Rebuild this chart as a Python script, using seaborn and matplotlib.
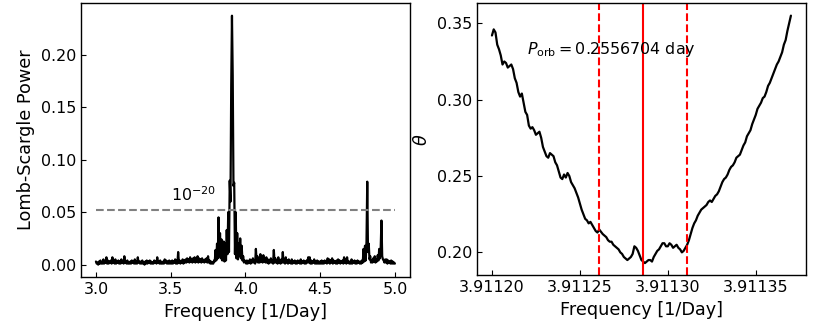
import numpy as np
import pandas as pd
import matplotlib
matplotlib.use("Agg")
import matplotlib.pyplot as plt
import matplotlib.ticker as mticker
import seaborn as sns

# Lomb-Scargle periodogram on a 0.005 1/day grid (3.0 .. 5.0)
ls_start = 3.0
ls_step = 0.005
ls_power = [
    0.003, 0.001, 0.002, 0.000, 0.003, 0.001, 0.004, 0.001, 0.002, 0.001, 0.005, 0.001, 0.003, 0.002, 0.007, 0.001, 0.004, 0.001, 0.003, 0.002,
    0.004, 0.001, 0.007, 0.002, 0.003, 0.001, 0.005, 0.001, 0.003, 0.002, 0.004, 0.001, 0.003, 0.001, 0.005, 0.002, 0.003, 0.001, 0.008, 0.002,
    0.003, 0.001, 0.004, 0.001, 0.002, 0.001, 0.003, 0.001, 0.004, 0.002, 0.003, 0.001, 0.005, 0.001, 0.003, 0.001, 0.007, 0.002, 0.003, 0.001,
    0.003, 0.001, 0.004, 0.001, 0.002, 0.000, 0.003, 0.001, 0.004, 0.001, 0.003, 0.002, 0.004, 0.001, 0.003, 0.001, 0.002, 0.001, 0.004, 0.002,
    0.003, 0.001, 0.007, 0.002, 0.003, 0.001, 0.004, 0.001, 0.002, 0.001, 0.003, 0.001, 0.005, 0.002, 0.004, 0.001, 0.003, 0.001, 0.004, 0.001,
    0.003, 0.001, 0.004, 0.001, 0.003, 0.002, 0.005, 0.001, 0.004, 0.001, 0.012, 0.002, 0.004, 0.001, 0.003, 0.002, 0.005, 0.001, 0.004, 0.002,
    0.005, 0.002, 0.006, 0.003, 0.005, 0.002, 0.007, 0.003, 0.005, 0.002, 0.006, 0.003, 0.007, 0.002, 0.005, 0.003, 0.008, 0.002, 0.006, 0.003,
    0.005, 0.002, 0.006, 0.003, 0.004, 0.002, 0.005, 0.003, 0.006, 0.002, 0.008, 0.002, 0.004, 0.001, 0.003, 0.001, 0.002, 0.001, 0.004, 0.003,
    0.014, 0.004, 0.020, 0.006, 0.045, 0.008, 0.030, 0.006, 0.024, 0.004, 0.016, 0.022, 0.003, 0.020, 0.004, 0.033, 0.010, 0.050, 0.012, 0.080,
    0.060, 0.170, 0.237, 0.180, 0.075, 0.078, 0.010, 0.050, 0.006, 0.030, 0.005, 0.020, 0.008, 0.025, 0.006, 0.018, 0.004, 0.008, 0.002, 0.004,
    0.003, 0.001, 0.004, 0.001, 0.003, 0.002, 0.005, 0.001, 0.004, 0.002, 0.006, 0.002, 0.004, 0.001, 0.015, 0.003, 0.008, 0.002, 0.005, 0.002,
    0.010, 0.003, 0.008, 0.002, 0.009, 0.003, 0.006, 0.002, 0.007, 0.002, 0.005, 0.001, 0.004, 0.002, 0.006, 0.002, 0.004, 0.001, 0.014, 0.002,
    0.006, 0.002, 0.004, 0.001, 0.007, 0.002, 0.004, 0.001, 0.005, 0.002, 0.012, 0.002, 0.005, 0.001, 0.007, 0.002, 0.004, 0.001, 0.005, 0.002,
    0.003, 0.001, 0.005, 0.001, 0.003, 0.002, 0.004, 0.001, 0.003, 0.001, 0.004, 0.002, 0.003, 0.001, 0.005, 0.001, 0.003, 0.002, 0.004, 0.001,
    0.003, 0.001, 0.004, 0.002, 0.007, 0.002, 0.007, 0.001, 0.004, 0.001, 0.003, 0.002, 0.005, 0.001, 0.003, 0.001, 0.004, 0.001, 0.003, 0.001,
    0.003, 0.001, 0.004, 0.001, 0.003, 0.001, 0.004, 0.002, 0.003, 0.001, 0.006, 0.002, 0.005, 0.001, 0.004, 0.002, 0.006, 0.001, 0.004, 0.002,
    0.003, 0.001, 0.004, 0.001, 0.005, 0.002, 0.004, 0.001, 0.003, 0.002, 0.004, 0.001, 0.007, 0.002, 0.005, 0.001, 0.007, 0.002, 0.003, 0.001,
    0.003, 0.001, 0.005, 0.001, 0.003, 0.002, 0.004, 0.001, 0.003, 0.001, 0.004, 0.002, 0.003, 0.001, 0.003, 0.001, 0.004, 0.002, 0.015, 0.003,
    0.018, 0.004, 0.022, 0.079, 0.012, 0.020, 0.005, 0.008, 0.002, 0.004, 0.002, 0.006, 0.003, 0.008, 0.002, 0.005, 0.003, 0.009, 0.004, 0.015,
    0.006, 0.016, 0.042, 0.008, 0.005, 0.004, 0.002, 0.005, 0.002, 0.005, 0.001, 0.004, 0.002, 0.003, 0.001, 0.004, 0.001, 0.003, 0.001, 0.002,
    0.001,
]
fap_level = 0.052
fap_label = r"$10^{-20}$"

# PDM theta statistic on a 1e-6 1/day grid starting at 3.91120
pdm_start = 3.91120
pdm_step = 0.000001
pdm_theta = [
    0.342, 0.346, 0.344, 0.336, 0.333, 0.329, 0.323, 0.325, 0.324, 0.321, 0.322, 0.323, 0.320, 0.314, 0.311, 0.305, 0.302, 0.304, 0.298, 0.292,
    0.290, 0.283, 0.281, 0.282, 0.280, 0.277, 0.278, 0.279, 0.275, 0.269, 0.266, 0.263, 0.262, 0.265, 0.264, 0.263, 0.259, 0.257, 0.253, 0.249,
    0.248, 0.251, 0.249, 0.252, 0.250, 0.246, 0.244, 0.242, 0.239, 0.236, 0.232, 0.228, 0.225, 0.222, 0.221, 0.219, 0.220, 0.218, 0.216, 0.214,
    0.213, 0.215, 0.2135, 0.212, 0.211, 0.210, 0.208, 0.207, 0.207, 0.205, 0.204, 0.203, 0.202, 0.200, 0.199, 0.197, 0.196, 0.195, 0.196, 0.197,
    0.199, 0.204, 0.203, 0.201, 0.198, 0.195, 0.194, 0.193, 0.194, 0.195, 0.195, 0.194, 0.197, 0.199, 0.201, 0.202, 0.204, 0.206, 0.206, 0.204,
    0.204, 0.206, 0.205, 0.203, 0.204, 0.205, 0.203, 0.202, 0.200, 0.201, 0.203, 0.205, 0.208, 0.212, 0.216, 0.219, 0.221, 0.224, 0.226, 0.228,
    0.229, 0.230, 0.231, 0.233, 0.234, 0.233, 0.235, 0.237, 0.238, 0.240, 0.243, 0.246, 0.248, 0.249, 0.251, 0.254, 0.256, 0.257, 0.259, 0.262,
    0.263, 0.264, 0.267, 0.270, 0.272, 0.276, 0.278, 0.280, 0.284, 0.287, 0.290, 0.294, 0.296, 0.298, 0.301, 0.302, 0.305, 0.309, 0.311, 0.314,
    0.317, 0.320, 0.323, 0.325, 0.328, 0.331, 0.336, 0.339, 0.345, 0.350, 0.355,
]
p_orb = 0.2556704
f_err = 0.000025

ls_freq = ls_start + ls_step * np.arange(len(ls_power))
pdm_freq = pdm_start + pdm_step * np.arange(len(pdm_theta))
ls_df = pd.DataFrame({"freq": ls_freq, "power": ls_power})
pdm_df = pd.DataFrame({"freq": pdm_freq, "theta": pdm_theta})

sns.set_style("ticks")
plt.rcParams["font.family"] = ["DejaVu Sans"]
plt.rcParams["xtick.direction"] = "in"
plt.rcParams["ytick.direction"] = "in"
for key in ["text.color", "axes.labelcolor", "xtick.color", "ytick.color", "axes.edgecolor"]:
    plt.rcParams[key] = "black"

fig = plt.figure(figsize=(8.14, 3.26), dpi=100)
ax1 = fig.add_axes([0.0995, 0.150, 0.404, 0.840])
ax2 = fig.add_axes([0.586, 0.155, 0.404, 0.835])

for ax in (ax1, ax2):
    for s in ax.spines.values():
        s.set_linewidth(1.0)
    ax.tick_params(labelsize=11.4)

# left: periodogram
sns.lineplot(data=ls_df, x="freq", y="power", ax=ax1, color="black", lw=1.6)
ax1.hlines(fap_level, ls_freq[0], ls_freq[-1], colors="gray", linestyles="--", lw=1.5)
ax1.text(3.505, 0.061, fap_label, fontsize=11.4)
ax1.set_xticks([3.0, 3.5, 4.0, 4.5, 5.0])
ax1.set_yticks([0.0, 0.05, 0.10, 0.15, 0.20])
ax1.xaxis.set_major_formatter(mticker.FormatStrFormatter("%.1f"))
ax1.yaxis.set_major_formatter(mticker.FormatStrFormatter("%.2f"))
ax1.set_xlabel("Frequency [1/Day]", fontsize=12.7)
ax1.set_ylabel("Lomb-Scargle Power", fontsize=12.7)

# right: PDM theta
f_orb = 1.0 / p_orb
sns.lineplot(data=pdm_df, x="freq", y="theta", ax=ax2, color="black", lw=1.6)
ax2.axvline(f_orb, color="red", lw=1.5)
ax2.axvline(f_orb - f_err, color="red", lw=1.5, ls="--")
ax2.axvline(f_orb + f_err, color="red", lw=1.5, ls="--")
ax2.text(3.91122, 0.330, r"$P_{\rm orb} = %s$ day" % p_orb, fontsize=11.4)
ax2.set_xticks([3.91120, 3.91125, 3.91130, 3.91135])
ax2.set_yticks([0.20, 0.25, 0.30, 0.35])
ax2.xaxis.set_major_formatter(mticker.FormatStrFormatter("%.5f"))
ax2.yaxis.set_major_formatter(mticker.FormatStrFormatter("%.2f"))
ax2.set_xlabel("Frequency [1/Day]", fontsize=12.7)
ax2.set_ylabel(r"$\theta$", fontsize=12.7)

fig.savefig("out.png", dpi=100)
